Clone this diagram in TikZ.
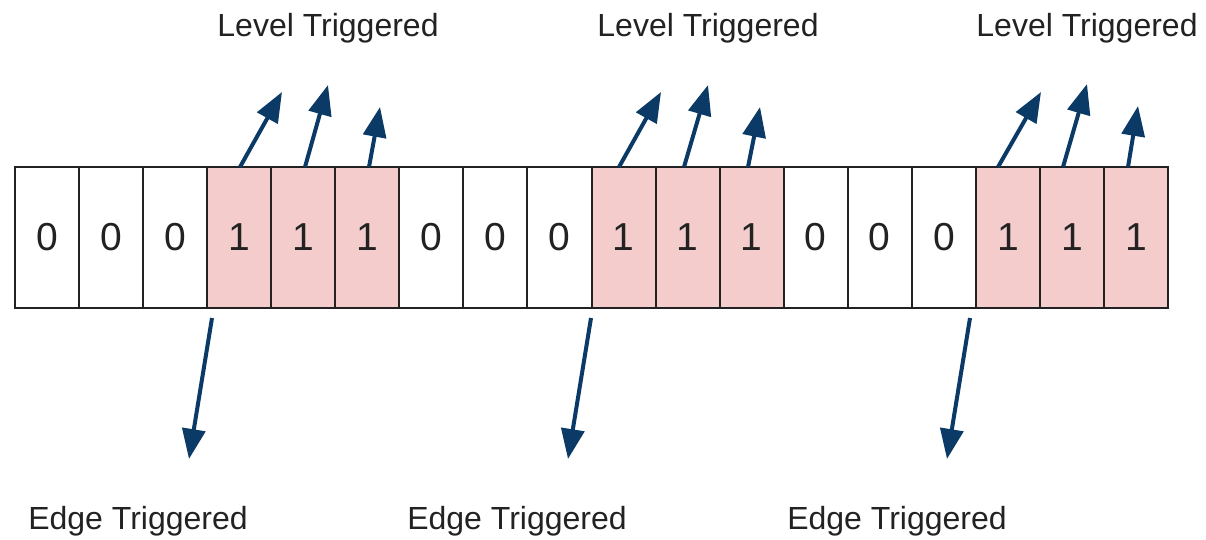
\documentclass[tikz,border=0pt]{standalone}
\usepackage{fontspec}
\setmainfont{Liberation Sans}
\usetikzlibrary{arrows.meta}
\definecolor{cellpink}{HTML}{F4CCCC}
\definecolor{arrowblue}{HTML}{0B3A66}
\definecolor{ink}{HTML}{222222}
\begin{document}
\begin{tikzpicture}[x=1pt,y=-1pt,
  cell/.style={draw=ink, line width=2pt, minimum width=64.06pt, minimum height=141pt,
    inner sep=0pt, text=ink, font=\fontsize{39}{44}\selectfont},
  zero/.style={cell, fill=white},
  one/.style={cell, fill=cellpink},
  label/.style={anchor=base, text=ink, inner sep=0pt, font=\fontsize{32}{38}\selectfont},
  trig/.style={draw=arrowblue, line width=4pt, -{Triangle[length=30pt,width=23pt]}}]
\useasboundingbox (0,0) rectangle (1206,539);

% the bit cells: three runs of 000111
\foreach \i/\v/\s in {0/0/zero,1/0/zero,2/0/zero,3/1/one,4/1/one,5/1/one,
                      6/0/zero,7/0/zero,8/0/zero,9/1/one,10/1/one,11/1/one,
                      12/0/zero,13/0/zero,14/0/zero,15/1/one,16/1/one,17/1/one}
  \node[\s] (c\i) at ({15+64.06*(\i+0.5)},237.5) {\v};

% arrow end points
\coordinate (u1a) at (240,167);  \coordinate (t1a) at (282,92);
\coordinate (u1b) at (305,167);  \coordinate (t1b) at (328,85);
\coordinate (u1c) at (369,167);  \coordinate (t1c) at (380,107);
\coordinate (u2a) at (619,167);  \coordinate (t2a) at (661,92);
\coordinate (u2b) at (684,167);  \coordinate (t2b) at (708,85);
\coordinate (u2c) at (748,167);  \coordinate (t2c) at (760,107);
\coordinate (u3a) at (998,167);  \coordinate (t3a) at (1041,92);
\coordinate (u3b) at (1063,167); \coordinate (t3b) at (1087,84);
\coordinate (u3c) at (1128,167); \coordinate (t3c) at (1138,106);
\coordinate (d1) at (212,318);   \coordinate (e1) at (189,459);
\coordinate (d2) at (591,318);   \coordinate (e2) at (568,459);
\coordinate (d3) at (970,318);   \coordinate (e3) at (947,459);

% level-triggered arrows above each run of ones
\foreach \g in {1,2,3}
  \foreach \k in {a,b,c}
    \draw[trig] (u\g\k) -- (t\g\k);

% edge-triggered arrows below each rising edge
\foreach \g in {1,2,3}
  \draw[trig] (d\g) -- (e\g);

% labels
\node[label] (lv1) at (328,36) {Level Triggered};
\node[label] (lv2) at (708,36) {Level Triggered};
\node[label] (lv3) at (1087,36) {Level Triggered};
\node[label] (ed1) at (138,529) {Edge Triggered};
\node[label] (ed2) at (517,529) {Edge Triggered};
\node[label] (ed3) at (897,529) {Edge Triggered};
\end{tikzpicture}
\end{document}
